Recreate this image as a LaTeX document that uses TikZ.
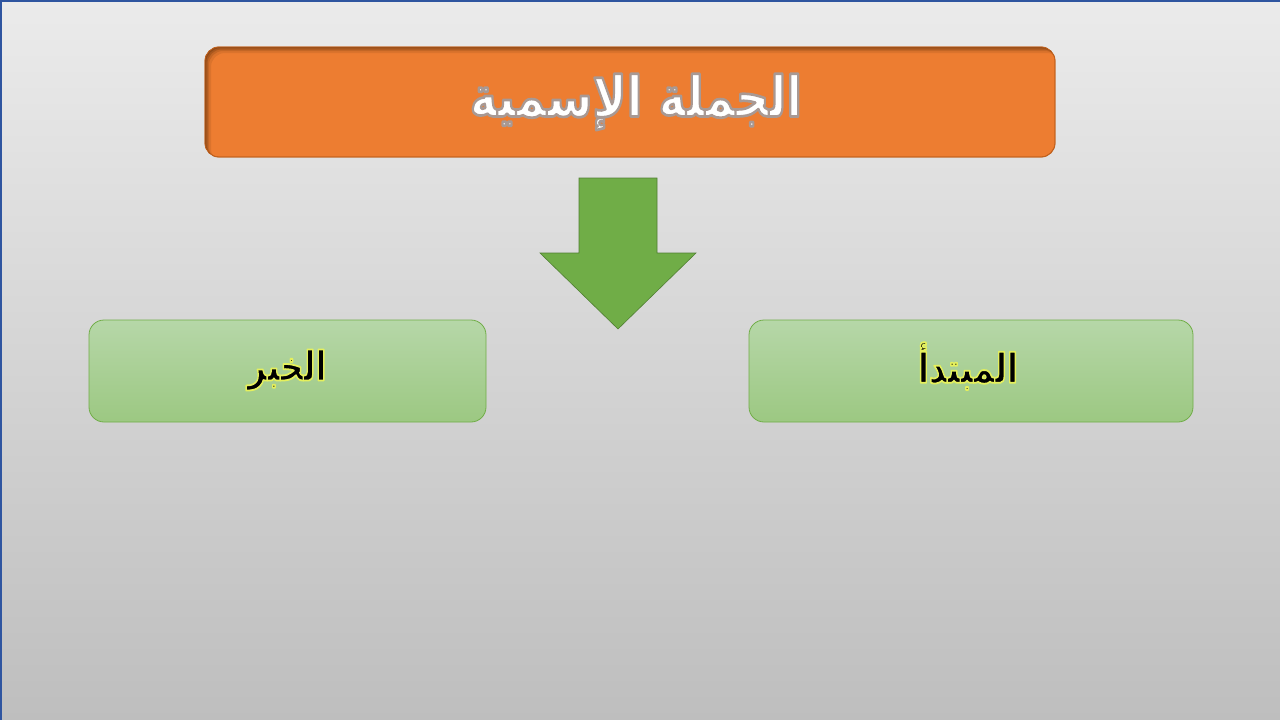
\documentclass[tikz,border=0pt]{standalone}
\usepackage{fontspec}
\TeXXeTstate=1
\newfontfamily\arabicfont[Script=Arabic]{DejaVu Sans}
\definecolor{bgtop}{HTML}{EBEBEB}
\definecolor{bgmid}{HTML}{E0E0E0}
\definecolor{bgbot}{HTML}{BEBEBE}
\definecolor{frameblue}{HTML}{2F55A0}
\definecolor{orangefill}{HTML}{ED7D31}
\definecolor{orangeline}{HTML}{C0601C}
\definecolor{shadowbrown}{HTML}{5A2E0A}
\definecolor{greentop}{HTML}{B6D7A8}
\definecolor{greenbot}{HTML}{9CC882}
\definecolor{greenline}{HTML}{70AD47}
\definecolor{arrowfill}{HTML}{70AD47}
\definecolor{arrowline}{HTML}{507E32}
% outline ("glow") drawn with the text itself: fill + stroke rendering mode
\newcommand\haloon[2]{\special{pdf:literal direct 2 Tr #1 w 1 j 1 J #2 RG}}
\newcommand\halooff{\special{pdf:literal direct 0 Tr}}
\tikzset{
  titlebox/.style={draw=orangeline, line width=0.8pt, fill=orangefill, rounded corners=14pt},
  greenbox/.style={draw=greenline, line width=0.8pt, top color=greentop, bottom color=greenbot, rounded corners=15pt},
  titletext/.style={text=white, font=\arabicfont\bfseries\fontsize{46}{54}\selectfont, inner sep=0pt},
  boxtext/.style={text=black, font=\arabicfont\bfseries\fontsize{32}{38}\selectfont, inner sep=0pt},
  arrowshape/.style={fill=arrowfill, draw=arrowline, line width=0.6pt}
}
\begin{document}
\begin{tikzpicture}[x=1pt,y=-1pt]
\useasboundingbox (0,0) rectangle (1280,720);
\shade[top color=bgtop, middle color=bgmid, bottom color=bgbot] (0,0) rectangle (1280,720);
\draw[frameblue, line width=2pt] (1,720) -- (1,1) -- (1280,1);

% title box with inner shadow
\path[titlebox] (205,47) rectangle (1055,157);
\begin{scope}
  \clip[rounded corners=14pt] (205,47) rectangle (1055,157);
  \foreach \s/\o in {6/0.12,4/0.18,2.5/0.25,1.2/0.3}{
    \fill[shadowbrown, opacity=\o, even odd rule, rounded corners=14pt]
      (150,0) rectangle (1110,200)
      ([shift={(\s,\s)}]205,47) rectangle ([shift={(\s,\s)}]1055,157);
  }
\end{scope}
\draw[orangeline, line width=0.8pt, rounded corners=14pt] (205,47) rectangle (1055,157);
\node[titletext] (title) at (636,102)
  {\scalebox{1}[1.22]{\haloon{2.2}{0.66 0.60 0.58}\beginR الجملة الإسمية\endR\halooff}};

% arrow
\path[arrowshape] (579,178) -- (657,178) -- (657,253) -- (696,253) -- (618,329) -- (540,253) -- (579,253) -- cycle;

% green boxes
\path[greenbox] (89,320) rectangle (486,422);
\path[greenbox] (749,320) rectangle (1193,422);
\node[boxtext] (khabar) at (287,370)
  {\scalebox{1}[1.28]{\haloon{1.4}{0.90 0.94 0.36}\beginR الخبر\endR\halooff}};
\node[boxtext] (mubtada) at (968,366)
  {\scalebox{1}[1.28]{\haloon{1.4}{0.90 0.94 0.36}\beginR المبتدأ\endR\halooff}};
\end{tikzpicture}
\end{document}
